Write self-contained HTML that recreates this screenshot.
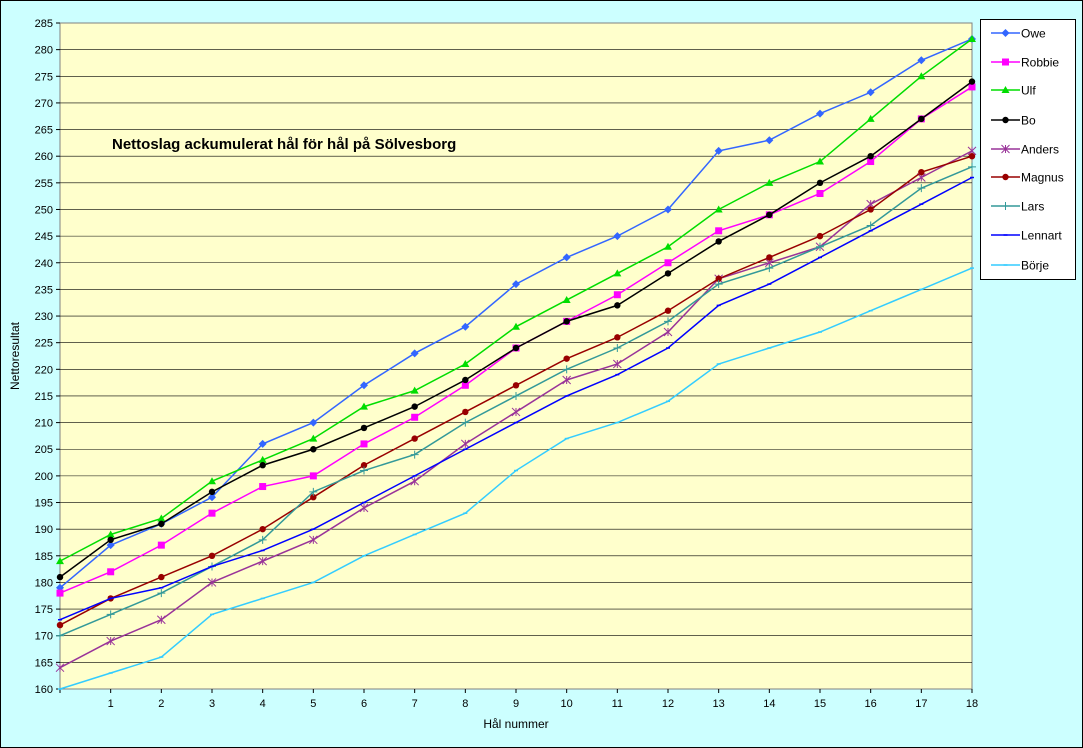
<!DOCTYPE html>
<html><head><meta charset="utf-8"><style>
body{margin:0;background:#ccffff;}
svg{display:block;font-family:"Liberation Sans",sans-serif;}
</style></head><body>
<svg id="s" width="1083" height="748" xmlns="http://www.w3.org/2000/svg">
<rect x="0.5" y="0.5" width="1082" height="747" fill="#ccffff" stroke="#000"/>
<rect x="60" y="23" width="912" height="666" fill="#ffffcc" stroke="#808080"/>
<g id="grid"></g>
<g id="series"></g>
<text x="112" y="149" font-size="15" font-weight="bold">Nettoslag ackumulerat hål för hål på Sölvesborg</text>
<text x="516" y="728" font-size="12" text-anchor="middle">Hål nummer</text>
<text transform="translate(19,356) rotate(-90)" font-size="12" text-anchor="middle">Nettoresultat</text>
<rect x="980.5" y="19.5" width="95" height="260" fill="#fff" stroke="#000"/>
<g id="legend"></g>
</svg>
<script>
const NS="http://www.w3.org/2000/svg";
function el(t,a,p,txt){const e=document.createElementNS(NS,t);for(const k in a)e.setAttribute(k,a[k]);if(txt!==undefined)e.textContent=txt;p.appendChild(e);return e;}
const X=h=>60+h*912/18, Y=v=>689-(v-160)*666/125;
const g=document.getElementById('grid');
for(let v=160;v<=285;v+=5){const y=Y(v);if(v>160&&v<285)el('line',{x1:60,x2:972,y1:y,y2:y,stroke:'#000','stroke-width':0.6},g);
el('line',{x1:56,x2:60,y1:y,y2:y,stroke:'#000'},g);el('text',{x:53,y:y+4,'font-size':11,'text-anchor':'end'},g,v);}
for(let h=0;h<=18;h++){const x=X(h);el('line',{x1:x,x2:x,y1:689,y2:693,stroke:'#000'},g);if(h>0)el('text',{x:x,y:707,'font-size':11,'text-anchor':'middle'},g,h);}
const S=[
["Owe","#3366ff","dia",[179,187,191,196,206,210,217,223,228,236,241,245,250,261,263,268,272,278,282]],
["Robbie","#ff00ff","sq",[178,182,187,193,198,200,206,211,217,224,229,234,240,246,249,253,259,267,273]],
["Ulf","#00dd00","tri",[184,189,192,199,203,207,213,216,221,228,233,238,243,250,255,259,267,275,282]],
["Bo","#000000","dot",[181,188,191,197,202,205,209,213,218,224,229,232,238,244,249,255,260,267,274]],
["Anders","#993399","star",[164,169,173,180,184,188,194,199,206,212,218,221,227,237,240,243,251,256,261]],
["Magnus","#990000","dot",[172,177,181,185,190,196,202,207,212,217,222,226,231,237,241,245,250,257,260]],
["Lars","#339999","plus",[170,174,178,183,188,197,201,204,210,215,220,224,229,236,239,243,247,254,258]],
["Lennart","#0000ff","dash",[173,177,179,183,186,190,195,200,205,210,215,219,224,232,236,241,246,251,256]],
["Börje","#33ccff","dash",[160,163,166,174,177,180,185,189,193,201,207,210,214,221,224,227,231,235,239]]];
function mark(p,m,x,y,c){
 if(m=='dia')el('path',{d:`M${x},${y-4}L${x+4},${y}L${x},${y+4}L${x-4},${y}Z`,fill:c},p);
 else if(m=='sq')el('rect',{x:x-3.5,y:y-3.5,width:7,height:7,fill:c},p);
 else if(m=='tri')el('path',{d:`M${x},${y-4}L${x+4},${y+3}L${x-4},${y+3}Z`,fill:c},p);
 else if(m=='dot')el('circle',{cx:x,cy:y,r:3.2,fill:c},p);
 else if(m=='star')el('path',{d:`M${x-4},${y-4}L${x+4},${y+4}M${x+4},${y-4}L${x-4},${y+4}M${x},${y-4}V${y+4}`,stroke:c,'stroke-width':1},p);
 else if(m=='plus')el('path',{d:`M${x-4},${y}H${x+4}M${x},${y-4}V${y+4}`,stroke:c,'stroke-width':1},p);
 else if(m=='dash')el('path',{d:`M${x-2},${y}H${x+2}`,stroke:c,'stroke-width':1.5},p);
}
const sg=document.getElementById('series'),lg=document.getElementById('legend');
const ly=[33,62,90,120,149,177,206,235,265];
S.forEach((s,i)=>{
 el('polyline',{points:s[3].map((v,h)=>X(h)+','+Y(v)).join(' '),fill:'none',stroke:s[1],'stroke-width':1.5},sg);
 s[3].forEach((v,h)=>mark(sg,s[2],X(h),Y(v),s[1]));
 const y=ly[i];el('line',{x1:991,x2:1020,y1:y,y2:y,stroke:s[1],'stroke-width':1.5},lg);mark(lg,s[2],1005.5,y,s[1]);
 el('text',{x:1021,y:y+4.5,'font-size':12},lg,s[0]);
});
</script>
</body></html>
